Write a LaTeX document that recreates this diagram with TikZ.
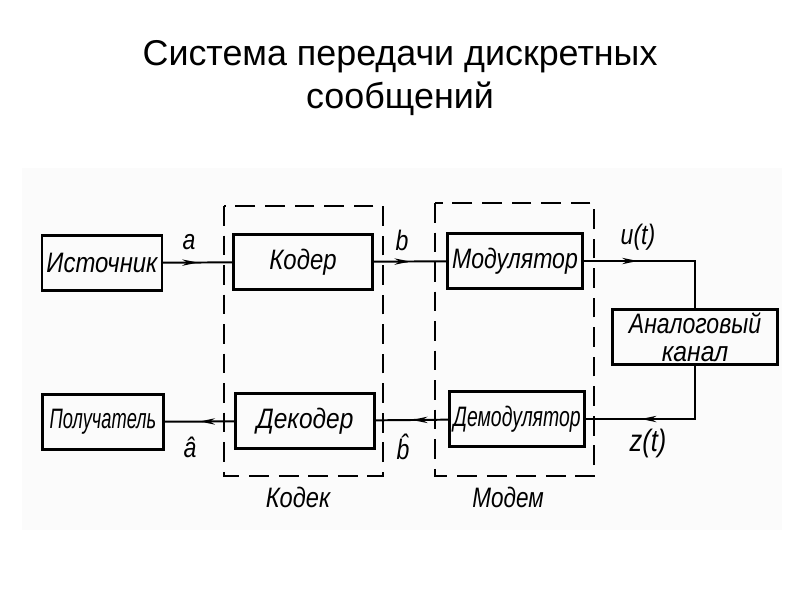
\documentclass[tikz,border=0pt]{standalone}
\usepackage{fontspec}
\setmainfont{Liberation Sans}
\usepackage{graphicx}
\usetikzlibrary{arrows.meta}
\usetikzlibrary{decorations.markings}
\newcommand{\ruk}[2][0.82]{\scalebox{#1}[1]{\itshape #2}}
\tikzset{
	blok/.style={draw, line width=1.7pt, minimum height=1.375cm, inner sep=0pt, align=center,
		font=\fontsize{20}{20}\selectfont},
	svyaz/.style={line width=1.4pt},
	midarr/.style={svyaz, postaction={decorate},
		decoration={markings, mark=at position #1 with {\arrow{Stealth[length=11pt,width=4.5pt]}}}},
	midarr/.default=0.5,
	gruppa/.style={line width=1.4pt, dash pattern=on 14pt off 7pt},
	metka/.style={font=\fontsize{20}{20}\selectfont},
}
\begin{document}
\begin{tikzpicture}[x=0.025cm, y=-0.025cm]
	\useasboundingbox (0,0) rectangle (800,600);
	\fill[black!1.5] (22,168) rectangle (782,530);
	\node[font=\fontsize{25.5}{30}\selectfont, align=center] (titul) at (400,78) {Система передачи дискретных\\сообщений};
	% blocks
	\node[blok, minimum width=3cm] (ist) at (102,263) {\ruk[0.85]{Источник}};
	\node[blok, minimum width=3.475cm] (kod) at (303,262) {\ruk[0.85]{Кодер}};
	\node[blok, minimum width=3.375cm] (mod) at (515,261) {\ruk{Модулятор}};
	\node[blok, minimum width=4.125cm] (kan) at (695,337) {\ruk{Аналоговый}\\\ruk[0.88]{канал}};
	\node[blok, minimum width=3.025cm] (pol) at (103,422) {\ruk[0.65]{Получатель}};
	\node[blok, minimum width=3.475cm] (dek) at (305,421) {\ruk[0.87]{Декодер}};
	\node[blok, minimum width=3.375cm] (dem) at (517,419) {\ruk[0.69]{Демодулятор}};
	% codec, modem
	\draw[gruppa] (224,206) rectangle (383,476);
	\draw[gruppa] (435,203) rectangle (594,476);
	\node[metka] (kodek) at (298,497) {\ruk[0.84]{Кодек}};
	\node[metka] (modem) at (508,497) {\ruk[0.8]{Модем}};
	% links
	\draw[midarr] (ist) -- (kod);
	\draw[midarr] (kod) -- (mod);
	\draw[midarr=0.34] (mod.east) -| (kan.north);
	\draw[midarr=0.66] (kan.south) |- (dem.east);
	\draw[midarr] (dem) -- (dek);
	\draw[midarr] (dek) -- (pol);
	\node[metka] (a) at (189,242) {\ruk{a}};
	\node[metka] (b) at (402,240) {\ruk{b}};
	\node[metka] (u) at (638,237) {\ruk{u(t)}};
	\node[metka] (ah) at (190,447) {\ruk{\^{a}}};
	\node[metka] (bh) at (403,447) {\ruk{\^{b}}};
	\node[metka, font=\fontsize{22}{22}\selectfont] (z) at (648,443) {\ruk{z(t)}};
\end{tikzpicture}
\end{document}
